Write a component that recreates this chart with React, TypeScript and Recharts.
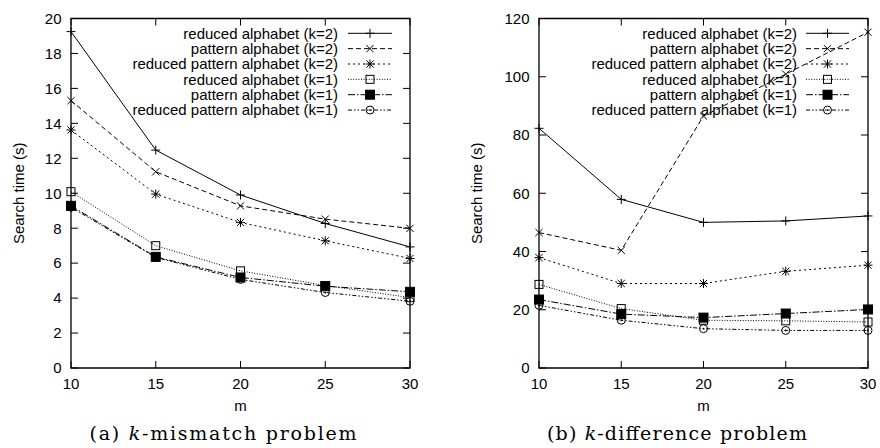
import React from 'react';
import { LineChart, Line, XAxis, YAxis, ReferenceArea } from 'recharts';

// ---------- data ----------
const mValues = [10, 15, 20, 25, 30];
const xTicks = [10, 15, 20, 25, 30];

const seriesNames = [
  'reduced alphabet (k=2)',
  'pattern alphabet (k=2)',
  'reduced pattern alphabet (k=2)',
  'reduced alphabet (k=1)',
  'pattern alphabet (k=1)',
  'reduced pattern alphabet (k=1)',
];

// (a) k-mismatch problem
const mismatchReducedK2 = [19.25, 12.47, 9.9, 8.27, 6.93];
const mismatchPatternK2 = [15.3, 11.23, 9.28, 8.52, 7.99];
const mismatchReducedPatternK2 = [13.62, 9.95, 8.33, 7.28, 6.27];
const mismatchReducedK1 = [10.09, 7.0, 5.56, 4.72, 4.03];
const mismatchPatternK1 = [9.28, 6.36, 5.18, 4.68, 4.36];
const mismatchReducedPatternK1 = [9.2, 6.33, 5.07, 4.32, 3.82];
const mismatchYTicks = [0, 2, 4, 6, 8, 10, 12, 14, 16, 18, 20];

// (b) k-difference problem
const differenceReducedK2 = [82.3, 57.9, 50.0, 50.5, 52.2];
const differencePatternK2 = [46.5, 40.4, 86.5, 100.9, 115.3];
const differenceReducedPatternK2 = [37.9, 29.0, 29.0, 33.2, 35.3];
const differenceReducedK1 = [28.7, 20.4, 16.4, 16.2, 15.8];
const differencePatternK1 = [23.5, 18.5, 17.3, 18.7, 20.1];
const differenceReducedPatternK1 = [21.5, 16.4, 13.5, 12.9, 12.9];
const differenceYTicks = [0, 20, 40, 60, 80, 100, 120];

// ---------- styles ----------
const SANS = '"Liberation Sans", Arial, Helvetica, sans-serif';
const SERIF = '"DejaVu Serif", "Liberation Serif", serif';
const keys = ['s0', 's1', 's2', 's3', 's4', 's5'];
const seriesStyles = [
  { marker: 'plus', dash: undefined },
  { marker: 'cross', dash: '5 3' },
  { marker: 'star', dash: '2 3' },
  { marker: 'square', dash: '1 1.6' },
  { marker: 'filledSquare', dash: '7 2 1.5 2' },
  { marker: 'circle', dash: '4 2 1.5 2 1.5 2' },
];

function buildRows(series: number[][]) {
  return mValues.map((m, i) => {
    const row: Record<string, number> = { m };
    series.forEach((s, j) => {
      row[keys[j]] = s[i];
    });
    return row;
  });
}

const mismatchRows = buildRows([
  mismatchReducedK2,
  mismatchPatternK2,
  mismatchReducedPatternK2,
  mismatchReducedK1,
  mismatchPatternK1,
  mismatchReducedPatternK1,
]);
const differenceRows = buildRows([
  differenceReducedK2,
  differencePatternK2,
  differenceReducedPatternK2,
  differenceReducedK1,
  differencePatternK1,
  differenceReducedPatternK1,
]);

function Marker({ kind, cx, cy }: { kind: string; cx: number; cy: number }) {
  const s = 4.5;
  const d = 3.6;
  const plus = (
    <>
      <line x1={cx - s} y1={cy} x2={cx + s} y2={cy} />
      <line x1={cx} y1={cy - s} x2={cx} y2={cy + s} />
    </>
  );
  const cross = (
    <>
      <line x1={cx - d} y1={cy - d} x2={cx + d} y2={cy + d} />
      <line x1={cx - d} y1={cy + d} x2={cx + d} y2={cy - d} />
    </>
  );
  switch (kind) {
    case 'plus':
      return <g stroke="#000" strokeWidth={1}>{plus}</g>;
    case 'cross':
      return <g stroke="#000" strokeWidth={1}>{cross}</g>;
    case 'star':
      return (
        <g stroke="#000" strokeWidth={1}>
          {plus}
          {cross}
        </g>
      );
    case 'square':
      return <rect x={cx - 4} y={cy - 4} width={8} height={8} fill="none" stroke="#000" strokeWidth={1} />;
    case 'filledSquare':
      return <rect x={cx - 4.5} y={cy - 4.5} width={9} height={9} fill="#000" stroke="#000" strokeWidth={1} />;
    case 'circle':
      return (
        <g>
          <circle cx={cx} cy={cy} r={4} fill="none" stroke="#000" strokeWidth={1} />
          <circle cx={cx} cy={cy} r={0.9} fill="#000" />
        </g>
      );
    default:
      return null;
  }
}

const PLOT_TOP = 18.5;
const PLOT_BOTTOM = 368;
const TICK_LEN = 7;

type PanelProps = {
  offsetX: number;
  plotLeft: number;
  plotRight: number;
  rows: Record<string, number>[];
  yDomain: [number, number];
  yTicks: number[];
  legendTextRight: number;
  legendLine: [number, number];
  yLabelX: number;
  captionLetter: string;
  captionRest: string;
  captionX: number;
};

function Panel(p: PanelProps) {
  const plotW = p.plotRight - p.plotLeft;
  const plotH = PLOT_BOTTOM - PLOT_TOP;

  const renderXTick = (props: any) => {
    const { x, y, payload } = props;
    return (
      <g>
        <line x1={x} y1={y} x2={x} y2={y - TICK_LEN} stroke="#000" strokeWidth={1} />
        <line x1={x} y1={y - plotH} x2={x} y2={y - plotH + TICK_LEN} stroke="#000" strokeWidth={1} />
        <text x={x} y={y + 21} textAnchor="middle" fontFamily={SANS} fontSize={15} fill="#000">
          {payload.value}
        </text>
      </g>
    );
  };
  const renderYTick = (props: any) => {
    const { x, y, payload } = props;
    return (
      <g>
        <line x1={x} y1={y} x2={x + TICK_LEN} y2={y} stroke="#000" strokeWidth={1} />
        <line x1={x + plotW} y1={y} x2={x + plotW - TICK_LEN} y2={y} stroke="#000" strokeWidth={1} />
        <text x={x - 9.5} y={y + 5.3} textAnchor="end" fontFamily={SANS} fontSize={15} fill="#000">
          {payload.value}
        </text>
      </g>
    );
  };

  const rowH = 15.35;
  const legendTop = 33.3;
  const lineMid = (p.legendLine[0] + p.legendLine[1]) / 2;

  return (
    <div style={{ position: 'absolute', left: p.offsetX, top: 0, width: 440, height: 448 }}>
      <LineChart
        width={440}
        height={448}
        data={p.rows}
        margin={{ top: PLOT_TOP, right: 440 - p.plotRight, bottom: 0, left: 0 }}
      >
        <XAxis
          dataKey="m"
          type="number"
          domain={[xTicks[0], xTicks[xTicks.length - 1]]}
          ticks={xTicks}
          interval={0}
          height={448 - PLOT_BOTTOM}
          tickSize={0}
          tickMargin={0}
          tickLine={false}
          axisLine={false}
          tick={renderXTick}
        />
        <YAxis
          type="number"
          domain={p.yDomain}
          ticks={p.yTicks}
          interval={0}
          width={p.plotLeft}
          tickSize={0}
          tickMargin={0}
          tickLine={false}
          axisLine={false}
          tick={renderYTick}
        />
        <ReferenceArea
          x1={xTicks[0]}
          x2={xTicks[xTicks.length - 1]}
          y1={p.yDomain[0]}
          y2={p.yDomain[1]}
          fill="none"
          fillOpacity={0}
          stroke="#000"
          strokeWidth={1.3}
        />
        {keys.map((k, i) => (
          <Line
            key={k}
            dataKey={k}
            name={seriesNames[i]}
            type="linear"
            stroke="#000"
            strokeWidth={1}
            strokeDasharray={seriesStyles[i].dash}
            isAnimationActive={false}
            activeDot={false}
            dot={(dp: any) => (
              <Marker key={`${k}-${dp.index}`} kind={seriesStyles[i].marker} cx={dp.cx} cy={dp.cy} />
            )}
          />
        ))}
      </LineChart>
      <svg
        width={440}
        height={448}
        style={{ position: 'absolute', left: 0, top: 0, pointerEvents: 'none' }}
      >
        {seriesNames.map((name, i) => {
          const y = legendTop + i * rowH;
          return (
            <g key={name}>
              <text
                x={p.legendTextRight}
                y={y + 5.3}
                textAnchor="end"
                fontFamily={SANS}
                fontSize={15}
                fill="#000"
              >
                {name}
              </text>
              <line
                x1={p.legendLine[0]}
                y1={y}
                x2={p.legendLine[1]}
                y2={y}
                stroke="#000"
                strokeWidth={1}
                strokeDasharray={seriesStyles[i].dash}
              />
              <Marker kind={seriesStyles[i].marker} cx={lineMid} cy={y} />
            </g>
          );
        })}
        <text
          x={p.yLabelX}
          y={(PLOT_TOP + PLOT_BOTTOM) / 2}
          transform={`rotate(-90 ${p.yLabelX} ${(PLOT_TOP + PLOT_BOTTOM) / 2})`}
          textAnchor="middle"
          fontFamily={SANS}
          fontSize={15}
          fill="#000"
        >
          Search time (s)
        </text>
        <text
          x={(p.plotLeft + p.plotRight) / 2}
          y={411}
          textAnchor="middle"
          fontFamily={SANS}
          fontSize={15}
          fill="#000"
        >
          m
        </text>
        <text
          x={p.captionX}
          y={440}
          textAnchor="middle"
          fontFamily={SERIF}
          fontSize={19}
          fill="#000"
          textLength={p.captionLetter === 'a' ? 267 : 260}
          lengthAdjust="spacing"
        >
          {`(${p.captionLetter}) `}
          <tspan fontStyle="italic">k</tspan>
          {p.captionRest}
        </text>
      </svg>
    </div>
  );
}

export default function App() {
  return (
    <div
      style={{
        position: 'absolute',
        left: 0,
        top: 0,
        width: 880,
        height: 448,
        background: '#fff',
        overflow: 'hidden',
      }}
    >
      <Panel
        offsetX={0}
        plotLeft={71}
        plotRight={410}
        rows={mismatchRows}
        yDomain={[0, 20]}
        yTicks={mismatchYTicks}
        legendTextRight={338}
        legendLine={[348, 392]}
        yLabelX={24}
        captionLetter="a"
        captionRest="-mismatch problem"
        captionX={223}
      />
      <Panel
        offsetX={440}
        plotLeft={99}
        plotRight={428}
        rows={differenceRows}
        yDomain={[0, 120]}
        yTicks={differenceYTicks}
        legendTextRight={357}
        legendLine={[366, 409]}
        yLabelX={42}
        captionLetter="b"
        captionRest="-difference problem"
        captionX={237}
      />
    </div>
  );
}
